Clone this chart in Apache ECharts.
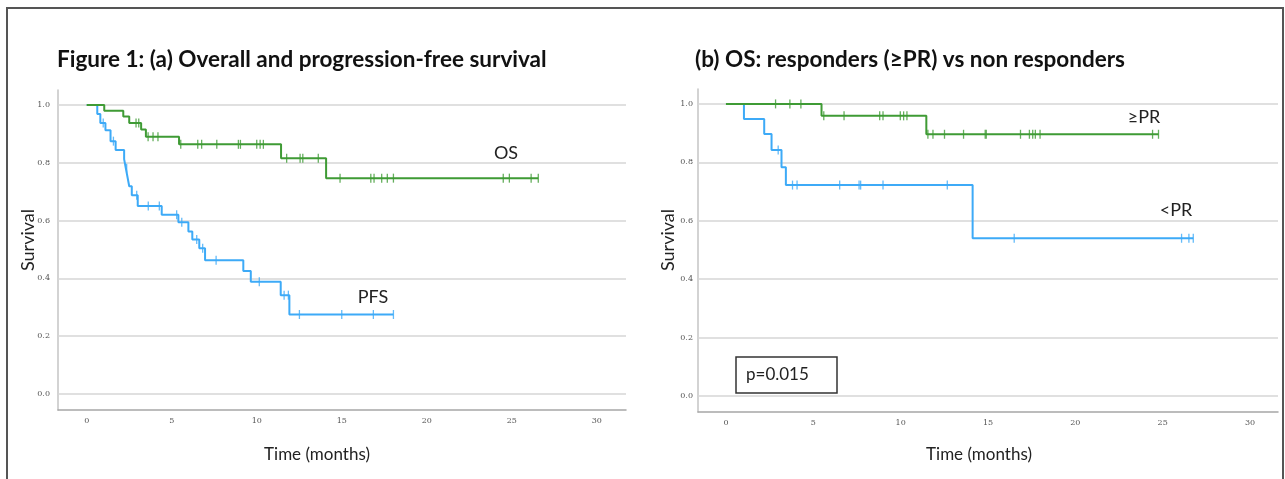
<!DOCTYPE html>
<html>
<head>
<meta charset="utf-8">
<script src="https://cdn.jsdelivr.net/npm/echarts@6/dist/echarts.min.js"></script>
<style>
  html, body { margin: 0; padding: 0; background: #fff; }
  #chart { width: 1285px; height: 479px; }
</style>
</head>
<body>
<div id="chart"></div>
<script>
// ---- data (time in months, survival proportion) ----
// (a) overall survival
const osTimes = [1.03, 2.15, 2.5, 3.2, 3.48, 5.43, 11.43, 14.08];
const osSurv = [0.980, 0.960, 0.938, 0.915, 0.890, 0.864, 0.816, 0.747];
const osCensor = [2.9, 3.06, 3.61, 3.9, 4.19, 5.53, 6.53, 6.76, 7.65, 8.92, 9.04, 10.0, 10.2, 10.39,
  11.76, 12.55, 12.71, 13.62, 14.9, 16.71, 16.9, 17.35, 17.68, 18.04, 24.5, 24.86, 26.14, 26.56];
// (a) progression-free survival
const pfsTimes = [0.62, 0.8, 1.1, 1.4, 1.7, 2.2, 2.3, 2.4, 2.5, 2.65, 3.0,
  4.41, 5.39, 5.98, 6.21, 6.62, 6.96, 9.21, 9.65, 11.41, 11.92];
const pfsSurv = [0.969, 0.938, 0.913, 0.875, 0.844, 0.813, 0.781, 0.750, 0.719, 0.688, 0.651,
  0.620, 0.594, 0.562, 0.535, 0.504, 0.463, 0.426, 0.388, 0.342, 0.275];
const pfsCensor = [0.97, 1.57, 2.35, 2.94, 3.62, 4.27, 5.29, 5.59, 6.47, 6.82, 7.61, 10.15,
  11.61, 11.86, 12.51, 15.0, 16.86, 18.04];
// (b) OS responders (>=PR)
const respTimes = [5.47, 11.47];
const respSurv = [0.959, 0.896];
const respCensor = [2.84, 3.66, 4.29, 5.6, 6.76, 8.8, 8.99, 9.98, 10.17, 10.36, 11.56, 11.85,
  12.51, 13.6, 14.84, 14.9, 16.86, 17.37, 17.56, 17.71, 17.98, 24.42, 24.76];
// (b) OS non responders (<PR)
const nonTimes = [1.03, 2.19, 2.61, 3.18, 3.43, 14.12];
const nonSurv = [0.948, 0.897, 0.842, 0.783, 0.722, 0.540];
const nonCensor = [2.99, 3.81, 4.07, 6.51, 7.62, 7.71, 8.99, 12.67, 16.5, 26.08, 26.5, 26.75];

const xTicks = [0, 5, 10, 15, 20, 25, 30];
const yTicks = [0, 0.2, 0.4, 0.6, 0.8, 1.0];

const GREEN = '#3f9b35';
const BLUE = '#3daaf7';

function survAt(t, times, surv) {
  let v = 1;
  for (let i = 0; i < times.length; i++) if (times[i] <= t) v = surv[i];
  return v;
}
function stepData(times, surv, censor) {
  const end = Math.max.apply(null, censor);
  const pts = [[0, 1]];
  times.forEach((t, i) => pts.push([t, surv[i]]));
  pts.push([end, surv[surv.length - 1]]);
  return pts;
}
function censorData(times, surv, censor) {
  return censor.map(t => [t, survAt(t, times, surv)]);
}

function kmSeries(idx, times, surv, censor, color, withGrid, z) {
  const line = {
    type: 'line', xAxisIndex: idx, yAxisIndex: idx, step: 'end', symbol: 'none',
    data: stepData(times, surv, censor), lineStyle: { color: color, width: 2 }, z: z,
    silent: true
  };
  if (withGrid) {
    // horizontal grid lines at the labelled survival values, under the curves
    line.markLine = {
      silent: true, symbol: 'none', label: { show: false }, animation: false, z: 1,
      lineStyle: { color: '#d6d6d6', width: 1.5, type: 'solid' },
      data: yTicks.map(v => ({ yAxis: v }))
    };
  }
  const marks = {
    type: 'scatter', xAxisIndex: idx, yAxisIndex: idx, symbol: 'rect', symbolSize: [1.3, 9],
    data: censorData(times, surv, censor), itemStyle: { color: color }, z: z + 1, silent: true
  };
  return [line, marks];
}

function xAx(idx, min, max) {
  return {
    type: 'value', gridIndex: idx, min: min, max: max,
    axisLine: { show: true, onZero: false, lineStyle: { color: '#a6a6a6', width: 1.5 } },
    axisTick: { show: false }, splitLine: { show: false },
    axisLabel: { customValues: xTicks, fontSize: 8, color: '#555', margin: 7,
      fontFamily: 'DejaVu Serif', formatter: v => String(v) }
  };
}
function yAx(idx, min, max, margin) {
  return {
    type: 'value', gridIndex: idx, min: min, max: max,
    axisLine: { show: true, onZero: false, lineStyle: { color: '#c4c4c4', width: 1.5 } },
    axisTick: { show: false }, splitLine: { show: false },
    axisLabel: { customValues: yTicks, fontSize: 8, color: '#555', margin: margin,
      fontFamily: 'DejaVu Serif', formatter: v => v.toFixed(1) }
  };
}

const FONT = 'Lato, "Open Sans", sans-serif';
function txt(x, y, text, size, align, rotation) {
  return {
    type: 'text', x: x, y: y, silent: true, rotation: rotation || 0,
    style: { text: text, fontSize: size, fontFamily: FONT, fill: '#222',
      align: align || 'center', verticalAlign: 'middle' }
  };
}

const chart = echarts.init(document.getElementById('chart'));
chart.setOption({
  backgroundColor: '#fff',
  animation: false,
  title: [
    { text: 'Figure 1: (a) Overall and progression-free survival', left: 57, top: 48, padding: 0,
      textStyle: { fontSize: 22.5, fontWeight: 'bold', color: '#111', fontFamily: FONT } },
    { text: '(b) OS: responders (≥PR) vs non responders', left: 695, top: 48, padding: 0,
      textStyle: { fontSize: 22.5, fontWeight: 'bold', color: '#111', fontFamily: FONT } }
  ],
  grid: [
    { left: 58, top: 90, width: 568, height: 320 },
    { left: 698, top: 89, width: 580, height: 323 }
  ],
  xAxis: [xAx(0, -1.69, 31.72), xAx(1, -1.6, 31.6)],
  yAxis: [yAx(0, -0.0554, 1.052, 8), yAx(1, -0.0549, 1.051, 5)],
  series: [].concat(
    kmSeries(0, osTimes, osSurv, osCensor, GREEN, true, 5),
    kmSeries(0, pfsTimes, pfsSurv, pfsCensor, BLUE, false, 3),
    kmSeries(1, respTimes, respSurv, respCensor, GREEN, true, 5),
    kmSeries(1, nonTimes, nonSurv, nonCensor, BLUE, false, 3)
  ),
  graphic: [
    { type: 'rect', silent: true, shape: { x: 7, y: 8, width: 1276, height: 500 },
      style: { fill: 'none', stroke: '#555', lineWidth: 2 } },
    txt(28, 240, 'Survival', 18, 'center', Math.PI / 2),
    txt(668, 240, 'Survival', 18, 'center', Math.PI / 2),
    txt(317, 455, 'Time (months)', 17),
    txt(979, 455, 'Time (months)', 17),
    txt(506, 153, 'OS', 18),
    txt(373, 297, 'PFS', 18),
    txt(1144, 117, '≥PR', 18),
    txt(1176, 210, '<PR', 18),
    { type: 'rect', silent: true, shape: { x: 736, y: 357, width: 101, height: 36 },
      style: { fill: '#fff', stroke: '#333', lineWidth: 1.5 } },
    txt(746, 375, 'p=0.015', 17, 'left')
  ]
});
</script>
</body>
</html>
